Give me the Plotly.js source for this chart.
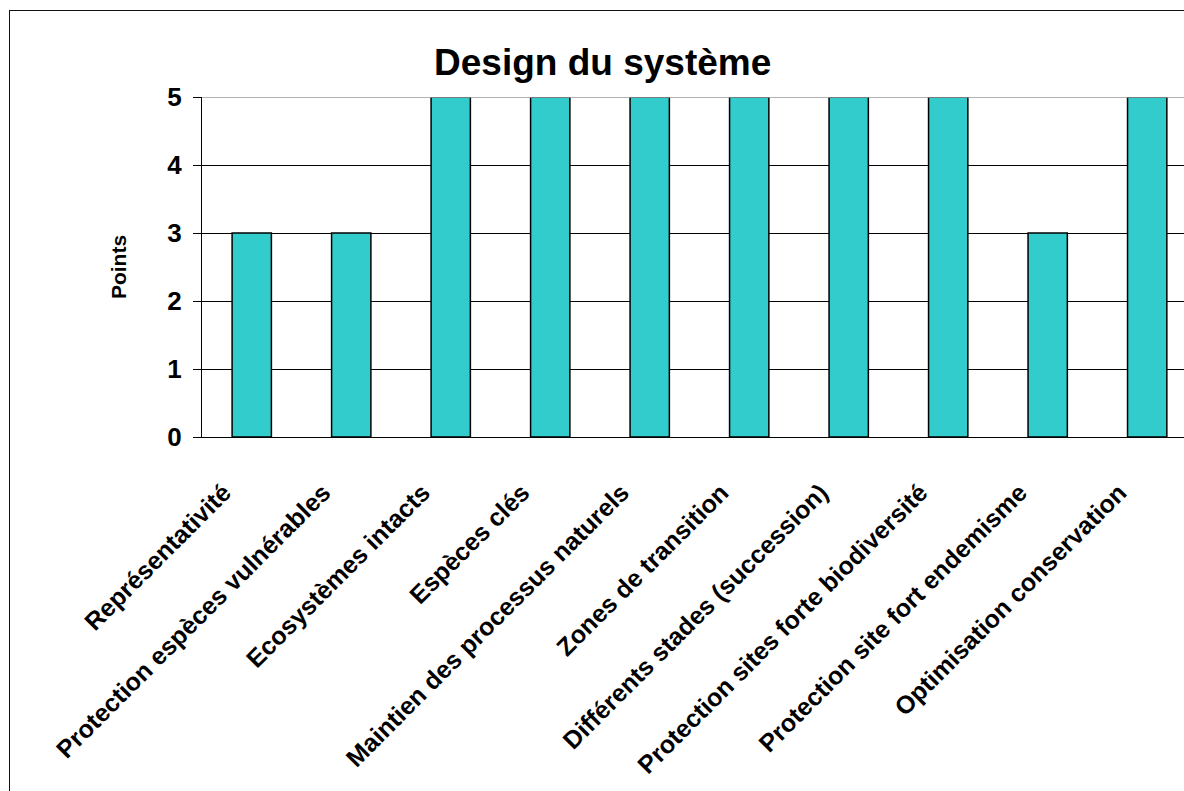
<!DOCTYPE html>
<html>
<head>
<meta charset="utf-8">
<script src="https://cdn.plot.ly/plotly-3.0.1.min.js"></script>
<style>
  html, body { margin: 0; padding: 0; background: #fff; }
  #chart { width: 1184px; height: 791px; position: absolute; left: 0; top: 0; }
  #frame { position: absolute; left: 9px; top: 10px; width: 1300px; height: 900px;
           border: 1.5px solid #111; pointer-events: none; box-sizing: border-box; }
</style>
</head>
<body>
<div id="chart"></div>
<div id="frame"></div>
<script>
const categories = [
  "Représentativité",
  "Protection espèces vulnérables",
  "Ecosystèmes intacts",
  "Espèces clés",
  "Maintien des processus naturels",
  "Zones de transition",
  "Différents stades (succession)",
  "Protection sites forte biodiversité",
  "Protection site fort endemisme",
  "Optimisation conservation"
];
const points = [3, 3, 5, 5, 5, 5, 5, 5, 3, 5];
const yTicks = [0, 1, 2, 3, 4, 5];

const FONT = "Liberation Sans, Arial, sans-serif";

const trace = {
  type: "bar",
  x: categories,
  y: points,
  width: 0.395,
  marker: { color: "#33CCCC", line: { color: "#000000", width: 1.5 } },
  hoverinfo: "x+y"
};

const layout = {
  width: 1184,
  height: 791,
  margin: { l: 202, r: 0, t: 97, b: 354, pad: 0 },
  paper_bgcolor: "#ffffff",
  plot_bgcolor: "#ffffff",
  showlegend: false,
  bargap: 0.6,
  font: { family: FONT, color: "#000000" },
  title: {
    text: "<b>Design du système</b>",
    font: { family: FONT, size: 37, color: "#000000" },
    xref: "container", x: 0.509, xanchor: "center",
    yref: "container", y: 0.922, yanchor: "middle"
  },
  xaxis: {
    type: "category",
    range: [-0.5, 9.37],
    tickangle: -45,
    tickfont: { family: FONT, size: 25, color: "#000000", weight: "bold" },
    ticks: "",
    showline: true,
    linecolor: "#000000",
    linewidth: 1,
    showgrid: false,
    zeroline: false,
    ticklabelstandoff: 30,
    ticklabelshift: -28,
    fixedrange: true
  },
  yaxis: {
    range: [0, 5],
    tickvals: yTicks,
    ticktext: yTicks.map(String),
    tickfont: { family: FONT, size: 26, color: "#000000", weight: "bold" },
    ticks: "outside",
    ticklen: 8,
    tickwidth: 1,
    tickcolor: "#000000",
    showline: true,
    linecolor: "#000000",
    linewidth: 1,
    showgrid: true,
    gridcolor: "#000000",
    gridwidth: 1,
    zeroline: false,
    ticklabelstandoff: 6,
    title: {
      text: "<b>Points</b>",
      font: { family: FONT, size: 21, color: "#000000" },
      standoff: 34
    },
    fixedrange: true
  },
  shapes: [
    { type: "line", xref: "paper", yref: "y", x0: 0, x1: 1, y0: 5, y1: 5,
      line: { color: "#999999", width: 1.5 } }
  ]
};

Plotly.newPlot("chart", [trace], layout, { displayModeBar: false, staticPlot: true });
</script>
</body>
</html>
